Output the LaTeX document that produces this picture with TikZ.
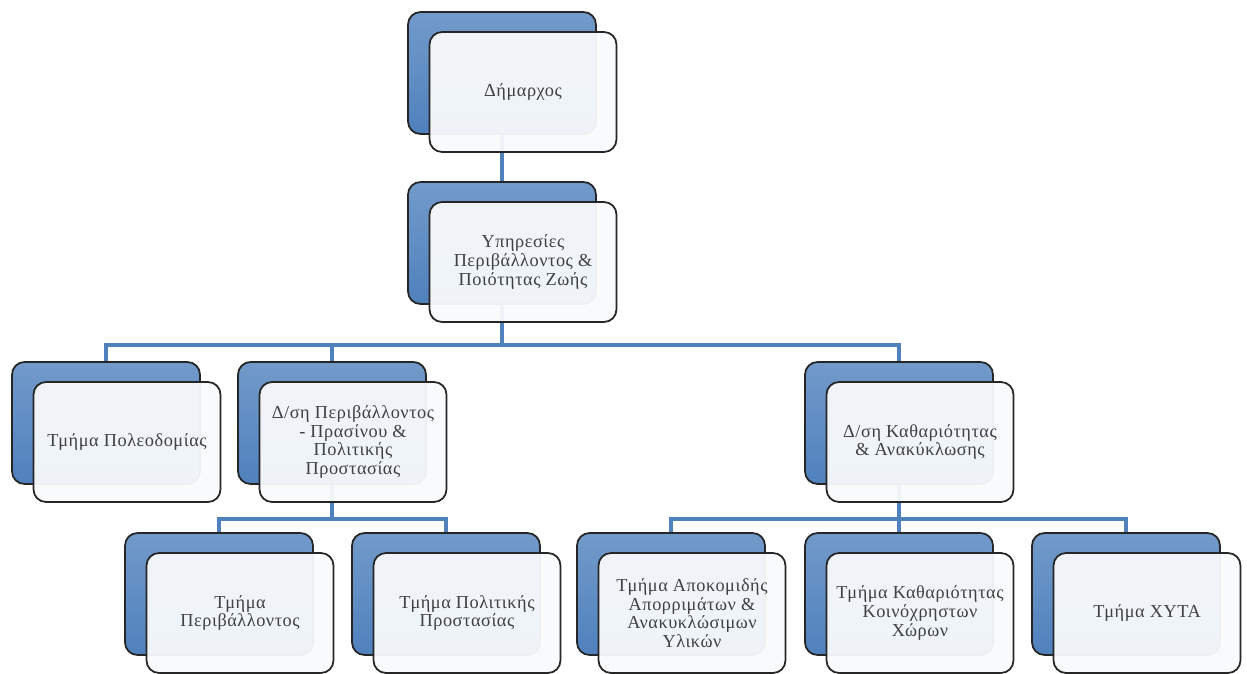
\documentclass[tikz,border=0pt]{standalone}
\usepackage{fontspec}
\setmainfont{Liberation Serif}[LetterSpace=3]
\usetikzlibrary{backgrounds}
\definecolor{orgblue}{HTML}{4F81BD}
\definecolor{orgtext}{HTML}{404040}
\begin{document}
\begin{tikzpicture}[x=0.02cm,y=-0.02cm,
    back/.style={draw=black!85,line width=1pt,rounded corners=0.25cm,top color=orgblue!80!white,bottom color=orgblue,minimum width=3.76cm,minimum height=2.44cm},
    front/.style={draw=black!85,line width=1pt,rounded corners=0.25cm,fill=orgblue!4!white,fill opacity=0.95,text opacity=1,text=orgtext,align=center,font=\fontsize{10.4}{10.6}\selectfont,minimum width=3.74cm,minimum height=2.4cm},
    link/.style={orgblue,line width=2.8pt}]
    \useasboundingbox (0,0) rectangle (1247,673);
    % back boxes and front boxes
    \foreach \n/\x/\y/\t in {mayor/502/73/{Δήμαρχος},
        serv/502/243/{Υπηρεσίες\\Περιβάλλοντος \&\\Ποιότητας Ζωής},
        urban/106/423/{Τμήμα Πολεοδομίας},
        envdir/332/423/{Δ/ση Περιβάλλοντος\\- Πρασίνου \&\\Πολιτικής\\Προστασίας},
        cleandir/899/423/{Δ/ση Καθαριότητας\\\& Ανακύκλωσης},
        envdept/219/594/{Τμήμα\\Περιβάλλοντος},
        civil/446/594/{Τμήμα Πολιτικής\\Προστασίας},
        collect/671/594/{Τμήμα Αποκομιδής\\Απορριμάτων \&\\Ανακυκλώσιμων\\Υλικών},
        common/899/594/{Τμήμα Καθαριότητας\\Κοινόχρηστων\\Χώρων},
        landfill/1126/594/{Τμήμα ΧΥΤΑ}} {
        \node[back] (\n B) at (\x,\y) {};
        \node[front] (\n) at (\x+21,\y+19) {\t};
    }
    \begin{pgfonlayer}{background}
        \coordinate (bar1) at (502,345);
        \coordinate (bar2) at (332,519);
        \coordinate (bar3) at (899,519);
        \draw[link] (mayorB) -- (servB);
        \foreach \c in {urbanB,envdirB,cleandirB}
            \draw[link] (servB) -- (bar1) -| (\c);
        \foreach \c in {envdeptB,civilB}
            \draw[link] (envdirB) -- (bar2) -| (\c);
        \foreach \c in {collectB,commonB,landfillB}
            \draw[link] (cleandirB) -- (bar3) -| (\c);
    \end{pgfonlayer}
\end{tikzpicture}
\end{document}
